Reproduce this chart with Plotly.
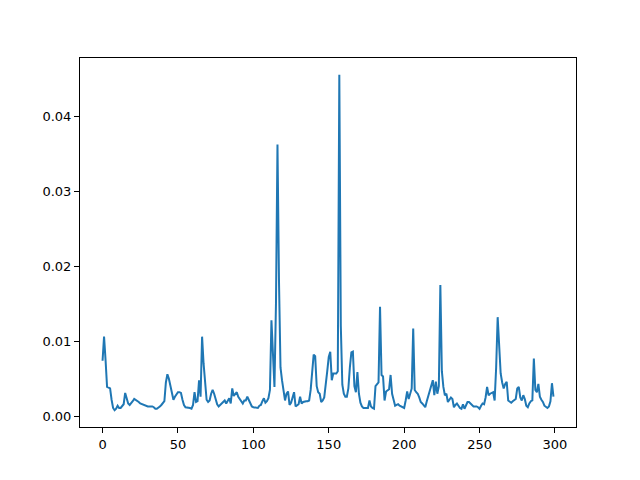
import plotly.graph_objects as go

# values, one per index 0..299
values = [
    0.0074, 0.0106, 0.0075, 0.0039, 0.0038, 0.0037, 0.0022, 0.0011, 0.0008, 0.0010,
    0.0014, 0.0011, 0.0011, 0.0013, 0.0016, 0.0031, 0.0022, 0.0017, 0.0015, 0.0017,
    0.0020, 0.0023, 0.0022, 0.0020, 0.0019, 0.0017, 0.0016, 0.0015, 0.0014, 0.0014,
    0.0013, 0.0013, 0.0013, 0.0013, 0.0012, 0.0010, 0.0010, 0.0011, 0.0013, 0.0015,
    0.0017, 0.0020, 0.0045, 0.0056, 0.0050, 0.0040, 0.0027, 0.0022, 0.0026, 0.0030,
    0.0032, 0.0032, 0.0031, 0.0022, 0.0015, 0.0012, 0.0012, 0.0011, 0.0011, 0.0010,
    0.0015, 0.0032, 0.0019, 0.0020, 0.0048, 0.0026, 0.0106, 0.0070, 0.0039, 0.0022,
    0.0019, 0.0021, 0.0030, 0.0035, 0.0030, 0.0021, 0.0016, 0.0013, 0.0015, 0.0017,
    0.0019, 0.0021, 0.0017, 0.0020, 0.0024, 0.0017, 0.0037, 0.0027, 0.0030, 0.0032,
    0.0026, 0.0023, 0.0021, 0.0017, 0.0021, 0.0021, 0.0026, 0.0021, 0.0017, 0.0013,
    0.0012, 0.0012, 0.0012, 0.0011, 0.0014, 0.0015, 0.0020, 0.0024, 0.0018, 0.0020,
    0.0024, 0.0035, 0.0128, 0.0075, 0.0039, 0.0150, 0.0362, 0.0180, 0.0065, 0.0048,
    0.0035, 0.0021, 0.0030, 0.0033, 0.0015, 0.0018, 0.0025, 0.0032, 0.0013, 0.0014,
    0.0016, 0.0026, 0.0017, 0.0019, 0.0020, 0.0020, 0.0020, 0.0021, 0.0035, 0.0058,
    0.0082, 0.0080, 0.0040, 0.0032, 0.0030, 0.0019, 0.0021, 0.0025, 0.0040, 0.0060,
    0.0079, 0.0086, 0.0048, 0.0057, 0.0057, 0.0057, 0.0060, 0.0455, 0.0120, 0.0042,
    0.0030, 0.0026, 0.0026, 0.0037, 0.0065, 0.0085, 0.0086, 0.0040, 0.0032, 0.0059,
    0.0030, 0.0018, 0.0013, 0.0011, 0.0011, 0.0011, 0.0011, 0.0021, 0.0013, 0.0011,
    0.0010, 0.0040, 0.0043, 0.0045, 0.0146, 0.0055, 0.0053, 0.0021, 0.0033, 0.0035,
    0.0036, 0.0055, 0.0030, 0.0022, 0.0014, 0.0015, 0.0016, 0.0014, 0.0013, 0.0012,
    0.0011, 0.0021, 0.0033, 0.0023, 0.0030, 0.0037, 0.0117, 0.0035, 0.0032, 0.0030,
    0.0025, 0.0019, 0.0017, 0.0014, 0.0012, 0.0020, 0.0028, 0.0035, 0.0040, 0.0048,
    0.0028, 0.0046, 0.0030, 0.0040, 0.0175, 0.0060, 0.0039, 0.0028, 0.0030, 0.0019,
    0.0022, 0.0025, 0.0023, 0.0012, 0.0015, 0.0017, 0.0014, 0.0011, 0.0010, 0.0016,
    0.0010, 0.0015, 0.0019, 0.0019, 0.0017, 0.0014, 0.0013, 0.0013, 0.0013, 0.0012,
    0.0010, 0.0014, 0.0017, 0.0016, 0.0025, 0.0039, 0.0028, 0.0030, 0.0031, 0.0032,
    0.0021, 0.0065, 0.0132, 0.0085, 0.0057, 0.0045, 0.0037, 0.0043, 0.0046, 0.0021,
    0.0019, 0.0018, 0.0020, 0.0021, 0.0023, 0.0037, 0.0039, 0.0025, 0.0021, 0.0028,
    0.0023, 0.0014, 0.0012, 0.0017, 0.0020, 0.0021, 0.0077, 0.0035, 0.0032, 0.0043,
    0.0026, 0.0022, 0.0019, 0.0014, 0.0012, 0.0011, 0.0013, 0.0020, 0.0044, 0.0026,
]
x_ticks = [0, 50, 100, 150, 200, 250, 300]
y_ticks = [0.00, 0.01, 0.02, 0.03, 0.04]

idx = list(range(len(values)))

fig = go.Figure()
fig.add_trace(go.Scatter(
    x=idx,
    y=values,
    mode='lines',
    line=dict(color='#1f77b4', width=2),
    showlegend=False
))

# matplotlib-like 5% padding around the data
xpad = (idx[-1] - idx[0]) * 0.05
ypad = (max(values) - min(values)) * 0.05

axis_style = dict(
    showgrid=False,
    zeroline=False,
    showline=True,
    mirror=True,
    linecolor='black',
    linewidth=1,
    ticks='outside',
    ticklen=5,
    tickwidth=1,
    tickcolor='black',
    tickfont=dict(family='DejaVu Sans', size=13, color='black'),
)

# page body has an 8px margin, so the figure is a bit smaller and margins shifted
fig.update_layout(
    width=632,
    height=472,
    margin=dict(l=72, r=64, t=50, b=53),
    paper_bgcolor='white',
    plot_bgcolor='white',
    xaxis=dict(range=[idx[0] - xpad, idx[-1] + xpad], tickvals=x_ticks, **axis_style),
    yaxis=dict(range=[min(values) - ypad, max(values) + ypad], tickvals=y_ticks,
               tickformat='.2f', **axis_style),
)

fig.write_html("out.html")
